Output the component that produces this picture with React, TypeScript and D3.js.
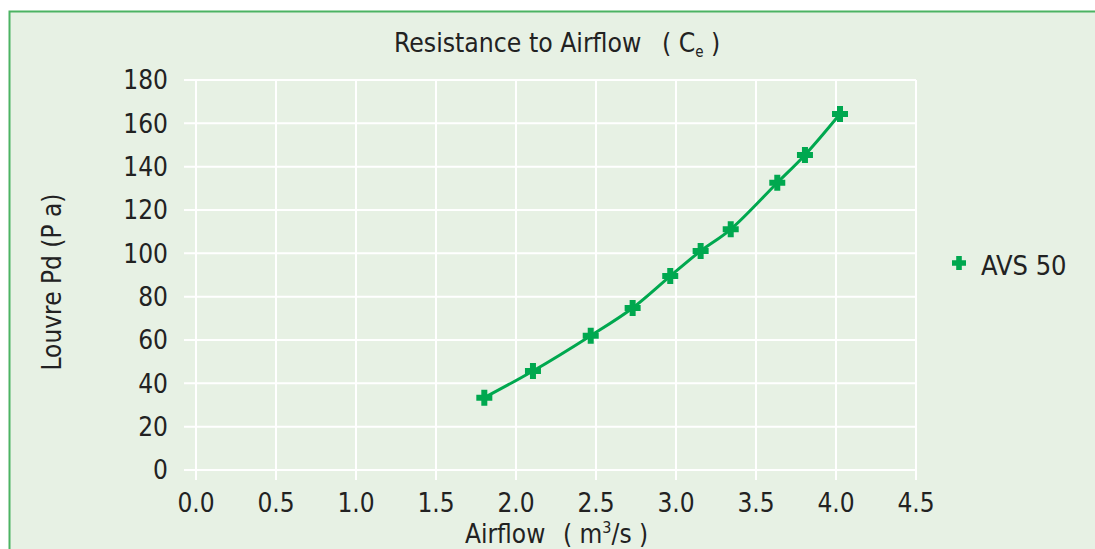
import React from "react";
import * as d3 from "d3";

const seriesName = "AVS 50";
const airflow = [1.802, 2.106, 2.467, 2.729, 2.964, 3.154, 3.342, 3.633, 3.806, 4.025];
const pressure = [33.4, 45.7, 62.0, 74.8, 89.5, 101.1, 111.1, 132.6, 145.4, 164.3];
const xTicks = [0, 0.5, 1.0, 1.5, 2.0, 2.5, 3.0, 3.5, 4.0, 4.5];
const yTicks = [0, 20, 40, 60, 80, 100, 120, 140, 160, 180];

const FONT = "'DejaVu Sans Condensed', 'DejaVu Sans', Tahoma, sans-serif";
const GREEN = "#00a84f";
const TEXT = "#222";

function Plus({ x, y, s = 8, t = 3 }: { x: number; y: number; s?: number; t?: number }) {
  const d = `M${x - t},${y - s}H${x + t}V${y - t}H${x + s}V${y + t}H${x + t}V${y + s}H${x - t}V${y + t}H${x - s}V${y - t}H${x - t}Z`;
  return <path d={d} fill={GREEN} />;
}

export default function App() {
  const x = d3.scaleLinear().domain([0, 4.5]).range([196, 916]);
  const y = d3.scaleLinear().domain([0, 180]).range([470, 80]);
  const pts = airflow.map((a, i) => [a, pressure[i]] as [number, number]);
  const line = d3
    .line<[number, number]>()
    .x((d) => x(d[0]))
    .y((d) => y(d[1]))
    .curve(d3.curveCatmullRom.alpha(0.5));

  return (
    <svg
      width={1095}
      height={549}
      style={{ position: "absolute", left: 0, top: 0, display: "block" }}
      fontFamily={FONT}
    >
      <rect x={0} y={0} width={1095} height={549} fill="#fff" />
      <rect x={9.5} y={11.5} width={1100} height={560} fill="#e7f1e4" stroke="#4cb363" strokeWidth={2} />

      {/* grid */}
      {yTicks.map((t) => (
        <line key={"gy" + t} x1={184} x2={x(4.5)} y1={y(t)} y2={y(t)} stroke="#fff" strokeWidth={2} />
      ))}
      {xTicks.map((t) => (
        <line key={"gx" + t} x1={x(t)} x2={x(t)} y1={y(180)} y2={480} stroke="#fff" strokeWidth={2} />
      ))}

      {/* y tick labels */}
      {yTicks.map((t) => (
        <text key={"yl" + t} x={168} y={y(t)} dy="0.36em" textAnchor="end" fontSize={26} fill={TEXT}>
          {t}
        </text>
      ))}
      {/* x tick labels */}
      {xTicks.map((t) => (
        <text key={"xl" + t} x={x(t)} y={512} textAnchor="middle" fontSize={26} fill={TEXT}>
          {t.toFixed(1)}
        </text>
      ))}

      {/* title */}
      <text x={394} y={52} fontSize={26.3} fill={TEXT}>
        <tspan>Resistance to Airflow</tspan>
        <tspan x={662}>( C</tspan>
        <tspan fontSize={15} dy={5}>e</tspan>
        <tspan dy={-5}>  )</tspan>
      </text>

      {/* axis titles */}
      <text x={465} y={543} fontSize={26} fill={TEXT}>
        <tspan>Airflow</tspan>
        <tspan x={563}>( m</tspan>
        <tspan fontSize={16} dy={-10}>3</tspan>
        <tspan dy={10}>/s )</tspan>
      </text>
      <text
        transform="translate(61,282) rotate(-90)"
        textAnchor="middle"
        fontSize={26}
        fill={TEXT}
      >
        Louvre Pd (P a)
      </text>

      {/* series */}
      <path d={line(pts) || ""} fill="none" stroke={GREEN} strokeWidth={3} />
      {pts.map((p, i) => (
        <Plus key={i} x={x(p[0])} y={y(p[1])} />
      ))}

      {/* legend */}
      <Plus x={959} y={263} s={7} t={2.8} />
      <text x={981} y={265} dy="0.36em" fontSize={27} fill={TEXT}>
        {seriesName}
      </text>
    </svg>
  );
}
